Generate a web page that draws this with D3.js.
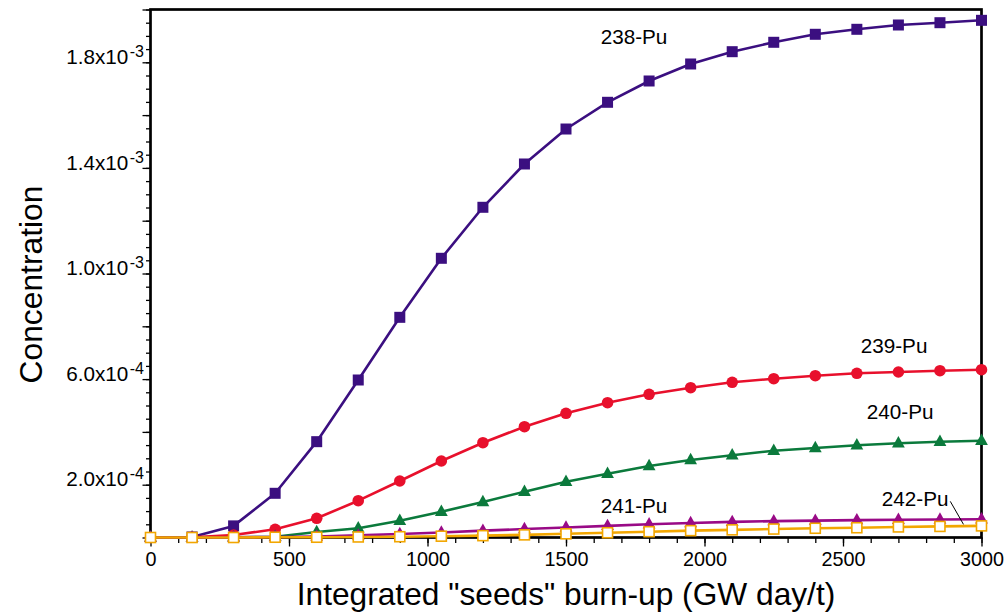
<!DOCTYPE html>
<html>
<head>
<meta charset="utf-8">
<script src="https://cdn.jsdelivr.net/npm/d3@7"></script>
<style>
  html, body { margin: 0; padding: 0; background: #fff; }
  svg { display: block; font-family: "Liberation Sans", Arial, Helvetica, sans-serif; }
</style>
</head>
<body>
<svg id="chart" width="1006" height="613"></svg>
<script>
// Burn-up steps (GW day/t)
const burnup = [0, 150, 300, 450, 600, 750, 900, 1050, 1200, 1350, 1500,
                1650, 1800, 1950, 2100, 2250, 2400, 2550, 2700, 2850, 3000];

// Plutonium isotope concentrations at each burn-up step
const pu238 = [0, 2e-6, 4.4e-5, 1.674e-4, 3.63e-4, 5.966e-4, 8.34e-4, 1.0576e-3, 1.2508e-3,
               1.4148e-3, 1.5473e-3, 1.6485e-3, 1.7292e-3, 1.7936e-3, 1.8402e-3, 1.8758e-3,
               1.9061e-3, 1.925e-3, 1.9413e-3, 1.95e-3, 1.959e-3];
const pu239 = [0, 1e-6, 9.5e-6, 3.1e-5, 7.27e-5, 1.394e-4, 2.14e-4, 2.898e-4, 3.591e-4,
               4.197e-4, 4.705e-4, 5.106e-4, 5.424e-4, 5.674e-4, 5.879e-4, 6.015e-4,
               6.129e-4, 6.22e-4, 6.269e-4, 6.318e-4, 6.356e-4];
const pu240 = [0, 0, 1e-6, 3e-6, 2.08e-5, 3.48e-5, 6.33e-5, 9.77e-5, 1.345e-4,
               1.735e-4, 2.114e-4, 2.417e-4, 2.708e-4, 2.936e-4, 3.114e-4, 3.288e-4,
               3.39e-4, 3.492e-4, 3.568e-4, 3.629e-4, 3.667e-4];
const pu241 = [0, 0, 1e-6, 2e-6, 4e-6, 8e-6, 1.3e-5, 1.9e-5, 2.6e-5,
               3.2e-5, 3.8e-5, 4.4e-5, 5.0e-5, 5.5e-5, 5.9e-5, 6.2e-5,
               6.4e-5, 6.6e-5, 6.7e-5, 6.8e-5, 6.9e-5];
const pu242 = [0, 0, 0, 1e-6, 1e-6, 2e-6, 3e-6, 5e-6, 7e-6,
               1.0e-5, 1.4e-5, 1.8e-5, 2.2e-5, 2.6e-5, 2.9e-5, 3.2e-5,
               3.5e-5, 3.7e-5, 4.0e-5, 4.2e-5, 4.4e-5];

// Axis ticks
const xMajorTicks = [0, 500, 1000, 1500, 2000, 2500, 3000];
const xMinorTicks = d3.range(0, 3001, 100);
const yMajorTicks = [0, 2e-4, 4e-4, 6e-4, 8e-4, 1.0e-3, 1.2e-3, 1.4e-3, 1.6e-3, 1.8e-3, 2.0e-3];
const yMinorTicks = d3.range(0, 41).map(i => i * 5e-5);
const yTickLabels = [
  { value: 2e-4,   mant: "2.0x10", exp: "-4" },
  { value: 6e-4,   mant: "6.0x10", exp: "-4" },
  { value: 1.0e-3, mant: "1.0x10", exp: "-3" },
  { value: 1.4e-3, mant: "1.4x10", exp: "-3" },
  { value: 1.8e-3, mant: "1.8x10", exp: "-3" }
];

// Series labels, anchored in data coordinates
const seriesLabels = [
  { text: "238-Pu", x: 1625, y: 1.868e-3 },
  { text: "239-Pu", x: 2564, y: 6.98e-4 },
  { text: "240-Pu", x: 2586, y: 4.47e-4 },
  { text: "241-Pu", x: 1625, y: 9.4e-5 },
  { text: "242-Pu", x: 2640, y: 1.18e-4 }
];

const series = [
  { name: "238-Pu", values: pu238, color: "#3b0f80", shape: "square" },
  { name: "239-Pu", values: pu239, color: "#e8102c", shape: "circle" },
  { name: "240-Pu", values: pu240, color: "#0b7a3c", shape: "triangle" },
  { name: "241-Pu", values: pu241, color: "#990a86", shape: "triangle" },
  { name: "242-Pu", values: pu242, color: "#f2a600", shape: "open-square" }
];

const svg = d3.select("#chart");
const plotLeft = 150.5, plotRight = 981.5, plotTop = 9.5, plotBottom = 537.5;

const x = d3.scaleLinear().domain([0, 3000]).range([plotLeft, plotRight]);
const y = d3.scaleLinear().domain([0, 2e-3]).range([plotBottom, plotTop]);

// Minor and major ticks on the x axis
const xMinor = svg.append("g").attr("transform", `translate(0,${plotBottom})`)
  .call(d3.axisBottom(x).tickValues(xMinorTicks).tickSize(5.5).tickFormat(""));
const xMajor = svg.append("g").attr("transform", `translate(0,${plotBottom})`)
  .call(d3.axisBottom(x).tickValues(xMajorTicks).tickSize(9).tickPadding(6).tickFormat(d3.format("d")));
[xMinor, xMajor].forEach(g => {
  g.select(".domain").remove();
  g.selectAll(".tick line").attr("stroke", "#000").attr("stroke-width", 1.3);
});
xMajor.selectAll(".tick text")
  .attr("font-size", 19.8).attr("fill", "#000")
  .attr("dy", null).attr("y", 28);

// Minor and major ticks on the y axis
const yMinor = svg.append("g").attr("transform", `translate(${plotLeft},0)`)
  .call(d3.axisLeft(y).tickValues(yMinorTicks).tickSize(4.5).tickFormat(""));
const yMajor = svg.append("g").attr("transform", `translate(${plotLeft},0)`)
  .call(d3.axisLeft(y).tickValues(yMajorTicks).tickSize(8).tickFormat(""));
[yMinor, yMajor].forEach(g => {
  g.select(".domain").remove();
  g.selectAll(".tick line").attr("stroke", "#000").attr("stroke-width", 1.3);
});

// Scientific-notation labels with superscript exponents
const yLab = svg.append("g");
yTickLabels.forEach(t => {
  const txt = yLab.append("text")
    .attr("x", plotLeft - 6.5)
    .attr("y", y(t.value) + 1.6)
    .attr("text-anchor", "end")
    .attr("fill", "#000");
  txt.append("tspan").attr("font-size", 20.7).text(t.mant);
  txt.append("tspan").attr("font-size", 16).attr("dx", 1.5).attr("dy", -7).text(t.exp);
});

// Plot frame
svg.append("rect")
  .attr("x", plotLeft).attr("y", plotTop)
  .attr("width", plotRight - plotLeft).attr("height", plotBottom - plotTop)
  .attr("fill", "none").attr("stroke", "#000").attr("stroke-width", 2.7);

// Axis titles
svg.append("text")
  .attr("x", (plotLeft + plotRight) / 2).attr("y", 605)
  .attr("text-anchor", "middle").attr("font-size", 31.7).attr("fill", "#000")
  .text('Integrated "seeds" burn-up (GW day/t)');
svg.append("text")
  .attr("transform", `translate(42,${284.5}) rotate(-90)`)
  .attr("text-anchor", "middle").attr("font-size", 31.8).attr("fill", "#000")
  .text("Concentration");

// Series lines and markers
const line = d3.line().x((d, i) => x(burnup[i])).y(d => y(d));
const triPath = "M0,-7.2L6.4,4.2L-6.4,4.2Z";

series.forEach(s => {
  const g = svg.append("g");
  g.append("path")
    .attr("d", line(s.values))
    .attr("fill", "none")
    .attr("stroke", s.color)
    .attr("stroke-width", 2.6)
    .attr("stroke-linejoin", "round");
  const pts = g.selectAll("g.pt").data(s.values).join("g")
    .attr("transform", (d, i) => `translate(${x(burnup[i])},${y(d)})`);
  if (s.shape === "square") {
    pts.append("rect").attr("x", -5.5).attr("y", -5.5).attr("width", 11).attr("height", 11)
      .attr("fill", s.color);
  } else if (s.shape === "circle") {
    pts.append("circle").attr("r", 5.8).attr("fill", s.color);
  } else if (s.shape === "triangle") {
    pts.append("path").attr("d", triPath).attr("fill", s.color);
  } else {
    pts.append("rect").attr("x", -5).attr("y", -5).attr("width", 10).attr("height", 10)
      .attr("fill", "#fff").attr("stroke", s.color).attr("stroke-width", 1.6);
  }
});

// Series labels
svg.append("g").selectAll("text").data(seriesLabels).join("text")
  .attr("x", d => x(d.x)).attr("y", d => y(d.y))
  .attr("font-size", 20.7).attr("fill", "#000")
  .text(d => d.text);

// Leader line from the 242-Pu label to its curve
const lab242 = seriesLabels[4];
svg.append("line")
  .attr("x1", x(lab242.x) + 68.5).attr("y1", y(lab242.y) - 5)
  .attr("x2", x(2935)).attr("y2", y(pu242[20]) - 1.5)
  .attr("stroke", "#000").attr("stroke-width", 1);
</script>
</body>
</html>
